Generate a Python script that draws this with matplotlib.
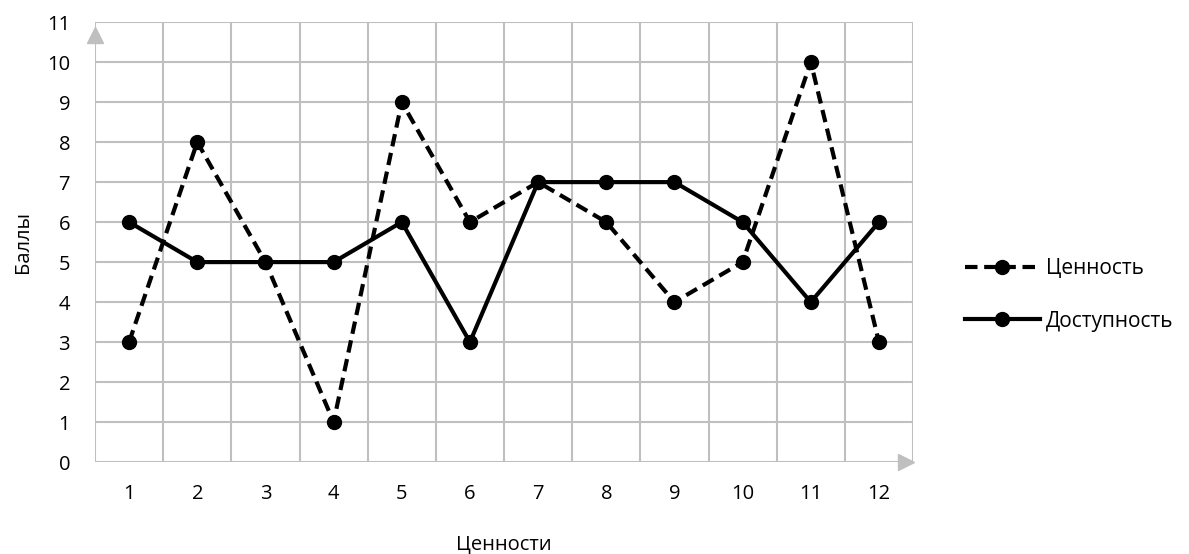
"""Line chart: values vs availability."""

import matplotlib.pyplot as plt

# Data
categories = [1, 2, 3, 4, 5, 6, 7, 8, 9, 10, 11, 12]
value_scores = [3, 8, 5, 1, 9, 6, 7, 6, 4, 5, 10, 3]
access_scores = [6, 5, 5, 5, 6, 3, 7, 7, 7, 6, 4, 6]
y_ticks = list(range(0, 12))

plt.rcParams['font.family'] = ['Open Sans', 'DejaVu Sans']

fig = plt.figure(figsize=(11.89, 5.54), dpi=100)
ax = fig.add_axes([0.0799, 0.166, 0.688, 0.794])

grid_color = '#bfbfbf'

ax.plot(categories, value_scores, color='black', linewidth=3, linestyle=(0, (3, 1.6)),
        marker='o', markersize=10, label='Ценность', zorder=3)
ax.plot(categories, access_scores, color='black', linewidth=3, linestyle='-',
        marker='o', markersize=10, label='Доступность', zorder=3)

ax.set_xlim(0.5, 12.5)
ax.set_ylim(0, 11)
ax.set_yticks(y_ticks)
ax.set_xticks(categories)

for y in y_ticks:
    ax.axhline(y, color=grid_color, linewidth=1.5, zorder=1)
for c in [0] + categories:
    ax.axvline(c + 0.5, color=grid_color, linewidth=1.5, zorder=1)

for side in ax.spines.values():
    side.set_visible(False)
ax.tick_params(axis='both', which='both', length=0, labelsize=14.5)
ax.tick_params(axis='y', pad=18)
ax.tick_params(axis='x', pad=16)

# axis arrows (gray triangles at the ends of the axes)
ax.plot([0.5], [10.68], marker='^', markersize=11, color=grid_color,
        clip_on=False, zorder=2)
ax.plot([12.4], [0], marker='>', markersize=11, color=grid_color,
        clip_on=False, zorder=2)

ax.set_xlabel('Ценности', fontsize=14.5, labelpad=22)
ax.set_ylabel('Баллы', fontsize=14.5, labelpad=10)

ax.legend(loc='center left', bbox_to_anchor=(1.04, 0.38), frameon=False,
          fontsize=15, handlelength=3.6, labelspacing=1.5, handletextpad=0.3)

fig.savefig('out.png', dpi=100)
